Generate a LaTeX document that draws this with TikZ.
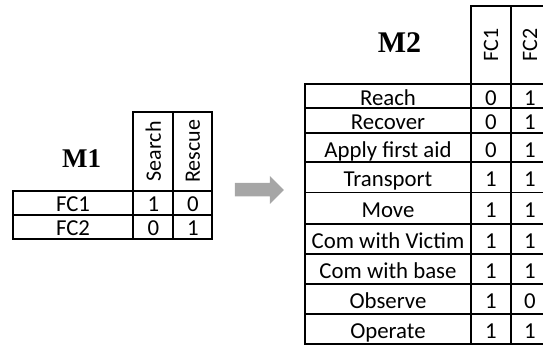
\documentclass[tikz,border=0pt]{standalone}
\usepackage{fontspec}
\setmainfont{Carlito}
\newfontfamily\titlefont{Liberation Serif}
\usetikzlibrary{positioning}

\begin{document}
\begin{tikzpicture}[
    x=0.5pt, y=-0.5pt,
    grid/.style={draw, line width=0.95pt},
    cell/.style={inner sep=0pt, anchor=base, font=\fontsize{11.4}{13}\selectfont},
    head/.style={inner sep=0pt, rotate=90, font=\fontsize{11}{13}\selectfont},
    title/.style={inner sep=0pt, font=\titlefont\bfseries\fontsize{#1}{#1}\selectfont},
    arrowbody/.style={fill=gray!70, draw=none}
]
\useasboundingbox (0,0) rectangle (543,348);
\clip (0,0) rectangle (543,348);

% M1 matrix
\node[title=13.5] (m1) at (81.7,159) {M1};
\draw[grid] (133.3,111.7) rectangle (212.3,190.7);
\draw[grid] (173.3,111.7) -- (173.3,190.7);
\node[head] (search) at (153.3,151.2) {Search};
\node[head] (rescue) at (192.8,151.2) {Rescue};
\draw[grid] (12.7,190.7) rectangle (212.3,239.3);
\draw[grid] (12.7,215) -- (212.3,215);
\draw[grid] (133.3,190.7) -- (133.3,239.3);
\draw[grid] (173.3,190.7) -- (173.3,239.3);
\foreach \txt/\a/\b/\yc [count=\i] in {FC1/1/0/202.9, FC2/0/1/227.2} {
    \node[cell] (fc\i) at (73,\yc+8.8) {\txt};
    \node[cell] (fc\i s) at (153.3,\yc+8.8) {\a};
    \node[cell] (fc\i r) at (192.8,\yc+8.8) {\b};
}

% transformation arrow
\fill[arrowbody] (235,183) -- (270,183) -- (270,176) -- (284,190)
    -- (270,204) -- (270,196.5) -- (235,196.5) -- cycle;

% M2 matrix
\node[title=15] (m2) at (399.5,42.5) {M2};
\draw[grid] (471,6) rectangle (549,84);
\draw[grid] (511,6) -- (511,84);
\node[head] (fcone) at (491,45) {FC1};
\node[head] (fctwo) at (530,45) {FC2};
\draw[grid] (305,84) rectangle (549,344);
\draw[grid] (471,84) -- (471,344);
\draw[grid] (511,84) -- (511,344);
\foreach \txt/\a/\b/\yt/\yb [count=\i] in {
    Reach/0/1/84/107.7,
    Recover/0/1/107.7/132.7,
    Apply first aid/0/1/132.7/162.3,
    Transport/1/1/162.3/192.5,
    Move/1/1/192.5/224,
    Com with Victim/1/1/224/254,
    Com with base/1/1/254/284,
    Observe/1/0/284/314,
    Operate/1/1/314/344} {
    \draw[grid] (305,\yb) -- (549,\yb);
    \node[cell] (task\i) at (388,{(\yt+\yb)/2+9.5}) {\txt};
    \node[cell] (task\i a) at (491,{(\yt+\yb)/2+9.5}) {\a};
    \node[cell] (task\i b) at (530,{(\yt+\yb)/2+9.5}) {\b};
}

\end{tikzpicture}
\end{document}
